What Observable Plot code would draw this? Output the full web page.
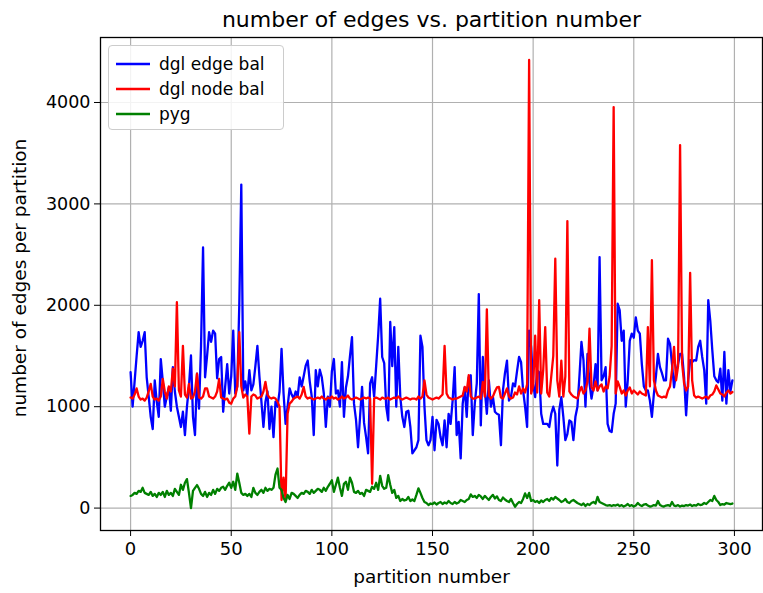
<!DOCTYPE html>
<html><head><meta charset="utf-8">
<script src="https://cdn.jsdelivr.net/npm/d3@7"></script>
<script src="https://cdn.jsdelivr.net/npm/@observablehq/plot@0.6"></script>
<style>
body{margin:0;background:#fff;font-family:"DejaVu Sans",sans-serif;}
#wrap{position:relative;width:763px;height:593px;overflow:hidden;}
#legend{position:absolute;left:108px;top:45px;width:176px;box-sizing:border-box;border:1px solid #cccccc;border-radius:4px;background:rgba(255,255,255,0.85);padding:5px 0 3px 7px;font-size:17px;color:#000;}
#legend .row{height:25px;display:flex;align-items:center;}
#legend svg{margin-right:9px;}
</style></head><body><div id="wrap"></div>
<script>
const titleText = "number of edges vs. partition number";
const xLabel = "partition number";
const yLabel = "number of edges per partition";
const seriesNames = ["dgl edge bal", "dgl node bal", "pyg"];
const seriesColors = ["#0000ff", "#ff0000", "#008000"];
const xTicks = [0, 50, 100, 150, 200, 250, 300];
const yTicks = [0, 1000, 2000, 3000, 4000];

const edgeBal = [
1340,1000,1250,1500,1735,1590,1650,1735,1290,1100,900,780,1260,1050,900,1470,1250,1000,1100,1190,
960,1390,1150,1000,900,800,950,720,1000,1200,1505,900,720,1325,980,1600,2570,1290,1500,1735,
1640,1750,1720,1280,1470,1490,950,1200,1420,1130,1300,1750,1130,1200,2000,3190,1160,1250,1110,1360,
1160,1220,1400,1600,1300,1050,800,1050,1150,780,1000,700,1050,1000,1150,1570,1130,830,1000,1180,
1120,1080,1150,1100,1290,1200,1300,1405,1455,1250,1100,720,1360,1200,1365,1290,1130,800,1100,1000,
1350,1470,1130,1160,1000,1440,900,1190,1300,1500,1685,1030,870,600,900,1195,840,700,540,1230,
1290,1100,1400,1700,2065,1490,1430,1000,865,1835,1400,1785,1000,1590,1095,900,800,950,960,800,
540,570,600,670,1700,1590,1000,670,620,670,900,570,870,830,700,620,865,600,930,830,
1060,1390,720,850,490,1030,1190,900,1290,1310,720,1030,1230,2110,815,1490,1160,930,1260,1000,
1100,950,930,920,620,1160,1330,1455,1060,1100,1230,1200,1350,1490,1440,1160,1000,800,1750,1590,
1225,1095,1360,1340,930,830,830,830,800,930,1000,930,420,970,1095,900,670,730,865,850,
670,900,1000,1300,1640,1460,1000,1520,1230,1080,1200,1420,1160,2475,1260,1300,1390,830,760,750,
930,1030,2015,1950,1650,1750,1000,1260,1650,1720,1680,1880,1750,1720,1420,1200,1160,1160,1060,900,
1130,1300,1520,1390,1330,1260,1260,1670,1620,1420,1190,1340,1420,1520,1520,1290,915,1260,1460,1440,
1460,1455,1590,1650,1490,1360,1030,2050,1850,1560,1300,1260,1240,1375,1060,1540,1030,1360,1150,1260
];
const nodeBal = [
1090,1080,1120,1180,1100,1070,1080,1060,1090,1150,1225,1100,1070,1080,1060,1100,1275,1150,1080,1200,
1150,1375,1200,2030,1160,1100,1600,1120,1090,1225,1080,1090,1150,1325,1090,1080,1100,1180,1180,1100,
1090,1080,1100,1150,1275,1090,1080,1070,1080,1040,1030,1080,1100,1200,1735,1200,1090,1120,1100,735,
1100,1120,1110,1080,1090,1100,1150,1245,1120,1090,1080,1090,1080,1050,1000,80,300,80,930,1030,
1050,1080,1090,1100,1080,1120,1195,1100,1080,1090,1080,1070,1080,1090,1080,1100,1080,1070,1090,1080,
1100,1080,1090,1070,1080,1100,1080,1090,1110,1080,1070,1080,1090,1080,1070,1080,1090,1080,1090,1080,
240,1080,1090,1080,1070,1090,1080,1080,1090,1070,1080,1090,1080,1100,1080,1070,1080,1090,1080,1070,
1080,1080,1070,1100,1080,1100,1260,1120,1090,1080,1070,1080,1090,1080,1100,1120,1600,1130,1090,1080,
1070,1080,1080,1090,1100,1110,1195,1150,1310,1100,1080,1080,1090,1100,1080,1245,1100,1960,1110,1080,
1100,1150,1190,1195,1090,1080,1130,1180,1100,1080,1090,1140,1120,1200,1130,1180,1140,1220,4420,1130,
1200,1700,1140,2050,1130,1360,1785,1140,1100,1300,1500,2460,1260,1100,1455,1100,1300,2830,1150,1120,
1100,1090,1080,1150,1195,1130,1160,1250,1770,1190,1160,1250,1160,1200,1220,1150,1200,1180,1300,1600,
3955,1130,1250,1195,1130,1160,1110,1160,1190,1130,1160,1140,1120,1150,1130,1120,1110,1785,1200,2445,
1260,1160,1110,1100,1090,1100,1090,1160,1200,1360,1590,1260,1400,3580,1430,1230,1160,1200,2320,1260,
1110,1090,1100,1090,1080,1090,1100,1080,1110,1120,1150,1210,1170,1130,1120,1100,1140,1160,1130,1145
];
const pyg = [
120,130,150,140,170,160,200,150,140,130,160,120,140,110,150,130,160,110,170,130,
150,120,190,160,130,230,180,250,286,150,0,170,200,227,190,140,120,160,110,150,
130,180,140,190,170,200,210,180,220,250,200,260,180,340,250,150,130,140,120,140,
110,200,150,130,160,180,150,200,170,190,180,200,330,390,200,180,100,60,130,90,
150,140,120,100,130,150,140,170,160,140,180,150,170,190,180,160,200,170,210,240,
275,160,230,300,200,120,240,260,180,300,250,160,150,170,140,150,120,180,170,160,
210,190,250,180,318,220,190,200,325,230,150,180,100,120,70,90,75,80,110,70,
85,70,130,195,150,100,60,50,30,45,40,55,35,50,60,40,55,45,70,50,
40,60,45,55,80,70,60,80,90,135,110,120,100,130,115,90,120,100,80,110,
130,95,115,80,70,105,85,70,60,90,50,13,40,60,50,90,145,100,150,70,
80,60,70,50,75,60,80,90,70,100,85,110,95,80,60,70,90,60,50,70,
80,65,50,40,30,45,20,40,30,50,60,45,110,60,50,40,30,25,30,20,
30,25,35,20,30,15,25,40,20,30,15,25,50,30,20,35,40,25,15,20,
30,25,70,30,20,15,25,30,20,60,25,20,30,15,25,20,30,25,35,20,
30,25,40,30,35,50,40,60,80,70,120,80,60,30,40,35,50,45,40,45
];

const seriesValues = [edgeBal, nodeBal, pyg];
const rows = seriesValues.flatMap((vals, s) => vals.map((v, i) => ({partition: i, edges: v, series: seriesNames[s]})));

const lineMarks = seriesNames.map((name, s) =>
  Plot.lineY(rows.filter(d => d.series === name), {x: "partition", y: "edges", stroke: seriesColors[s], strokeWidth: 2.3, strokeLinejoin: "round"})
);

const chart = Plot.plot({
  width: 763, height: 593,
  marginLeft: 100, marginRight: 1, marginTop: 37, marginBottom: 63,
  style: {fontFamily: "'DejaVu Sans', sans-serif", fontSize: "18px", background: "white", color: "black", overflow: "visible"},
  x: {domain: [-14.95, 313.95]},
  y: {domain: [-221, 4641]},
  marks: [
    Plot.gridX(xTicks, {stroke: "#b0b0b0", strokeOpacity: 1, strokeWidth: 1.2}),
    Plot.gridY(yTicks, {stroke: "#b0b0b0", strokeOpacity: 1, strokeWidth: 1.2}),
    ...lineMarks,
    Plot.axisX(xTicks, {tickSize: 6, tickPadding: 6, fontSize: 18, label: null, tickFormat: d => String(d)}),
    Plot.axisY(yTicks, {tickSize: 6, tickPadding: 4, fontSize: 17.5, label: null, tickFormat: d => String(d)}),
    Plot.frame({stroke: "black", strokeWidth: 1.3}),
    Plot.text([titleText], {frameAnchor: "top", dy: -26, fontSize: 22, fill: "black"}),
    Plot.text([xLabel], {frameAnchor: "bottom", dy: 52, fontSize: 18.5, fill: "black"}),
    Plot.text([yLabel], {frameAnchor: "left", textAnchor: "middle", dx: -80, dy: -6, rotate: -90, fontSize: 18.5, fill: "black"})
  ]
});

const wrap = document.getElementById("wrap");
wrap.appendChild(chart);

const legend = document.createElement("div");
legend.id = "legend";
seriesNames.forEach((name, s) => {
  const row = document.createElement("div");
  row.className = "row";
  row.innerHTML = `<svg width="34" height="10"><line x1="0" y1="5" x2="34" y2="5" stroke="${seriesColors[s]}" stroke-width="2.3"/></svg><span>${name}</span>`;
  legend.appendChild(row);
});
wrap.appendChild(legend);
</script>
</body></html>
